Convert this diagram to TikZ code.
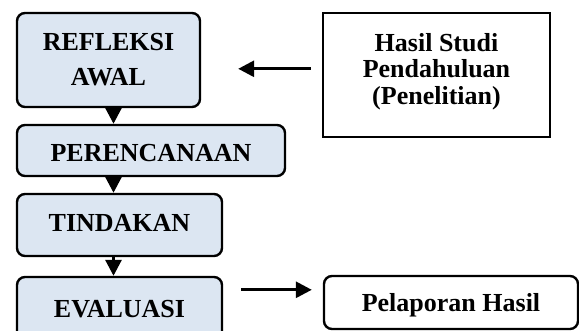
\documentclass[tikz,border=0pt]{standalone}
\usepackage{fontspec}
\setmainfont{Liberation Serif}
\definecolor{stagefill}{RGB}{220, 230, 242}
\usetikzlibrary{arrows.meta, calc}

\begin{document}
\begin{tikzpicture}[x=0.5pt, y=-0.5pt,
  stage/.style={draw, line width=1.2pt, fill=stagefill, rounded corners=4pt, inner sep=0pt, align=center, font=\fontsize{13}{17.5}\selectfont\bfseries},
  notebox/.style={draw, line width=1.2pt, fill=white, inner sep=0pt},
  notetext/.style={inner sep=0pt, align=center, font=\fontsize{13}{13.2}\selectfont\bfseries},
  flow/.style={-{Triangle[length=8pt, width=8pt]}, line width=1.5pt}]
  \clip (0, 0) rectangle (579, 331);
  \coordinate (spine) at (113.5, 0);
  % siklus tahapan
  \node[stage, minimum width=91.5pt, minimum height=47pt] (refl) at (108.5, 60) {REFLEKSI\\AWAL};
  \node[stage, minimum width=134pt, minimum height=25.5pt, text height=11.6pt] (peren) at (151, 150.5) {PERENCANAAN};
  \node[stage, minimum width=102.5pt, minimum height=31pt, text depth=2.5pt] (tind) at (119.5, 225) {TINDAKAN};
  \node[stage, minimum width=102.5pt, minimum height=32pt] (eval) at (119.5, 309) {EVALUASI};
  % kotak samping
  \node[notebox, minimum width=113.5pt, minimum height=62pt] (hasil) at (436.5, 75) {};
  \node[notetext] (hasiltxt) at (436.5, 71.5) {Hasil Studi\\Pendahuluan\\(Penelitian)};
  \node[notebox, rounded corners=4pt, minimum width=127pt, minimum height=26.5pt, text depth=0pt, font=\fontsize{13}{14}\selectfont\bfseries] (lapor) at (451, 302.5) {Pelaporan Hasil};
  \draw[flow] (refl.south -| spine) -- (peren.north -| spine);
  \draw[flow] (peren.south -| spine) -- (tind.north -| spine);
  \draw[flow] (tind.south -| spine) -- (eval.north -| spine);
  \draw[flow] ($(hasil.north west)+(-5.5pt,-28.5pt)$) -- ($(refl.north east)+(18.5pt,-28.5pt)$);
  \draw[flow] ($(eval.north east)+(9pt,-7pt)$) -- ($(lapor.north west)+(-5.5pt,-7.5pt)$);
\end{tikzpicture}
\end{document}
